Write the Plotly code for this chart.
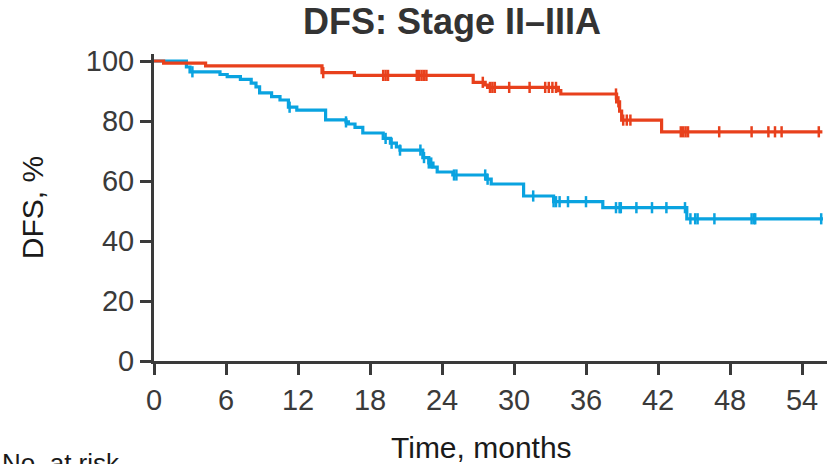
import numpy as np
import plotly.graph_objects as go

# ---------------- data ----------------
red_times = [0, 0.8, 4.3, 14.0, 16.7, 26.6, 27.6, 27.8, 33.7, 33.9, 38.55, 38.8, 38.97, 42.3, 55.7]
red_surv = [100, 99.3, 98.4, 96.1, 95.2, 92.9, 92.0, 91.2, 90.1, 89.0, 86.4, 83.3, 80.3, 76.4, 76.4]
red_censor = [14.1, 19.1, 19.3, 19.5, 21.9, 22.1, 22.3, 22.5, 22.7, 27.4, 28.0, 28.2, 28.4,
              29.6, 31.3, 32.6, 32.9, 33.2, 33.5, 38.5, 38.7, 39.1, 39.4, 39.7,
              43.9, 44.1, 44.3, 44.5, 47.1, 49.8, 51.2, 51.75, 52.3, 55.4]

blue_times = [0, 2.7, 3.0, 5.5, 6.1, 7.2, 8.1, 8.5, 8.8, 9.8, 10.5, 11.2, 11.9, 14.3, 16.0, 16.2,
              16.75, 17.4, 19.1, 19.7, 20.2, 20.5, 22.4, 22.9, 23.25, 23.6, 24.9, 27.7, 28.1,
              30.8, 33.3, 37.4, 44.4, 55.75]
blue_surv = [100, 98.0, 96.4, 95.5, 94.8, 93.9, 92.6, 91.4, 89.4, 88.1, 87.0, 84.6, 83.6, 80.4,
             79.7, 79.0, 77.9, 76.0, 74.2, 72.6, 71.4, 70.3, 67.8, 66.0, 64.6, 63.0, 62.0, 60.6,
             59.0, 55.0, 53.1, 51.1, 47.4, 47.4]
blue_censor = [3.2, 11.3, 16.0, 19.3, 19.8, 20.5, 22.2, 22.5, 22.9, 23.1, 25.0, 25.2, 27.6, 27.8,
               31.6, 33.3, 33.5, 33.8, 34.5, 36.0, 38.5, 38.8, 38.9, 40.2, 41.5, 42.7, 44.25,
               44.7, 45.1, 45.3, 46.7, 49.8, 50.0, 50.1, 55.6]

x_ticks = [0, 6, 12, 18, 24, 30, 36, 42, 48, 54]
y_ticks = [0, 20, 40, 60, 80, 100]

RED = "#E8401C"
BLUE = "#0AA3E0"
AXIS = "#3a3a3a"
FONT = "Arial, Liberation Sans, sans-serif"


def step_value(times, surv, t):
    times = np.asarray(times)
    surv = np.asarray(surv)
    idx = np.searchsorted(times, np.asarray(t), side="right") - 1
    return surv[idx]


fig = go.Figure()
for times, surv, cens, col in [(blue_times, blue_surv, blue_censor, BLUE),
                               (red_times, red_surv, red_censor, RED)]:
    fig.add_trace(go.Scatter(x=times, y=surv, mode="lines", line=dict(color=col, width=3.2, shape="hv"),
                             showlegend=False, hoverinfo="skip"))
    fig.add_trace(go.Scatter(x=cens, y=step_value(times, surv, cens), mode="markers",
                             marker=dict(symbol="line-ns", size=8, line=dict(color=col, width=2.5)),
                             showlegend=False, hoverinfo="skip"))

W, H = 827, 464
ml, mr, mt, mb = 154, 0, 54, 103
pw = W - ml - mr
ph = H - mt - mb

fig.update_layout(
    width=W, height=H,
    margin=dict(l=ml, r=mr, t=mt, b=mb, pad=0),
    paper_bgcolor="white", plot_bgcolor="white",
    font=dict(family=FONT, color=AXIS, size=29),
    title=dict(text="<b>DFS: Stage II–IIIA</b>", x=452 / W, xanchor="center",
               y=1 - 9 / H, yanchor="top", yref="container",
               font=dict(size=36, color="#333333", family=FONT)),
    xaxis=dict(range=[0, pw / 12.0], tickvals=x_ticks, ticktext=[str(v) for v in x_ticks],
               showgrid=False, zeroline=False, showline=True, linecolor=AXIS, linewidth=3,
               ticks="outside", ticklen=11, tickwidth=3, tickcolor=AXIS,
               tickfont=dict(size=29, color=AXIS)),
    yaxis=dict(range=[0, ph / 3.0], tickvals=y_ticks, ticktext=[str(v) for v in y_ticks],
               showgrid=False, zeroline=False, showline=True, linecolor=AXIS, linewidth=3,
               ticks="outside", ticklen=11, tickwidth=3, tickcolor=AXIS,
               tickfont=dict(size=29, color=AXIS),
               title=dict(text="DFS, %", font=dict(size=30, color="#1a1a1a"), standoff=34)),
    annotations=[
        dict(text="Time, months", xref="paper", yref="paper", x=(481 - ml) / pw, xanchor="center",
             y=-(429 - (mt + ph)) / ph, yanchor="top", showarrow=False,
             font=dict(size=30, color="#1a1a1a", family=FONT)),
        dict(text="No. at risk", xref="paper", yref="paper", x=-ml / pw, xanchor="left",
             y=-(446 - (mt + ph)) / ph, yanchor="top", showarrow=False,
             font=dict(size=26, color="#1a1a1a", family=FONT)),
    ],
)

fig.write_html("out.html")
